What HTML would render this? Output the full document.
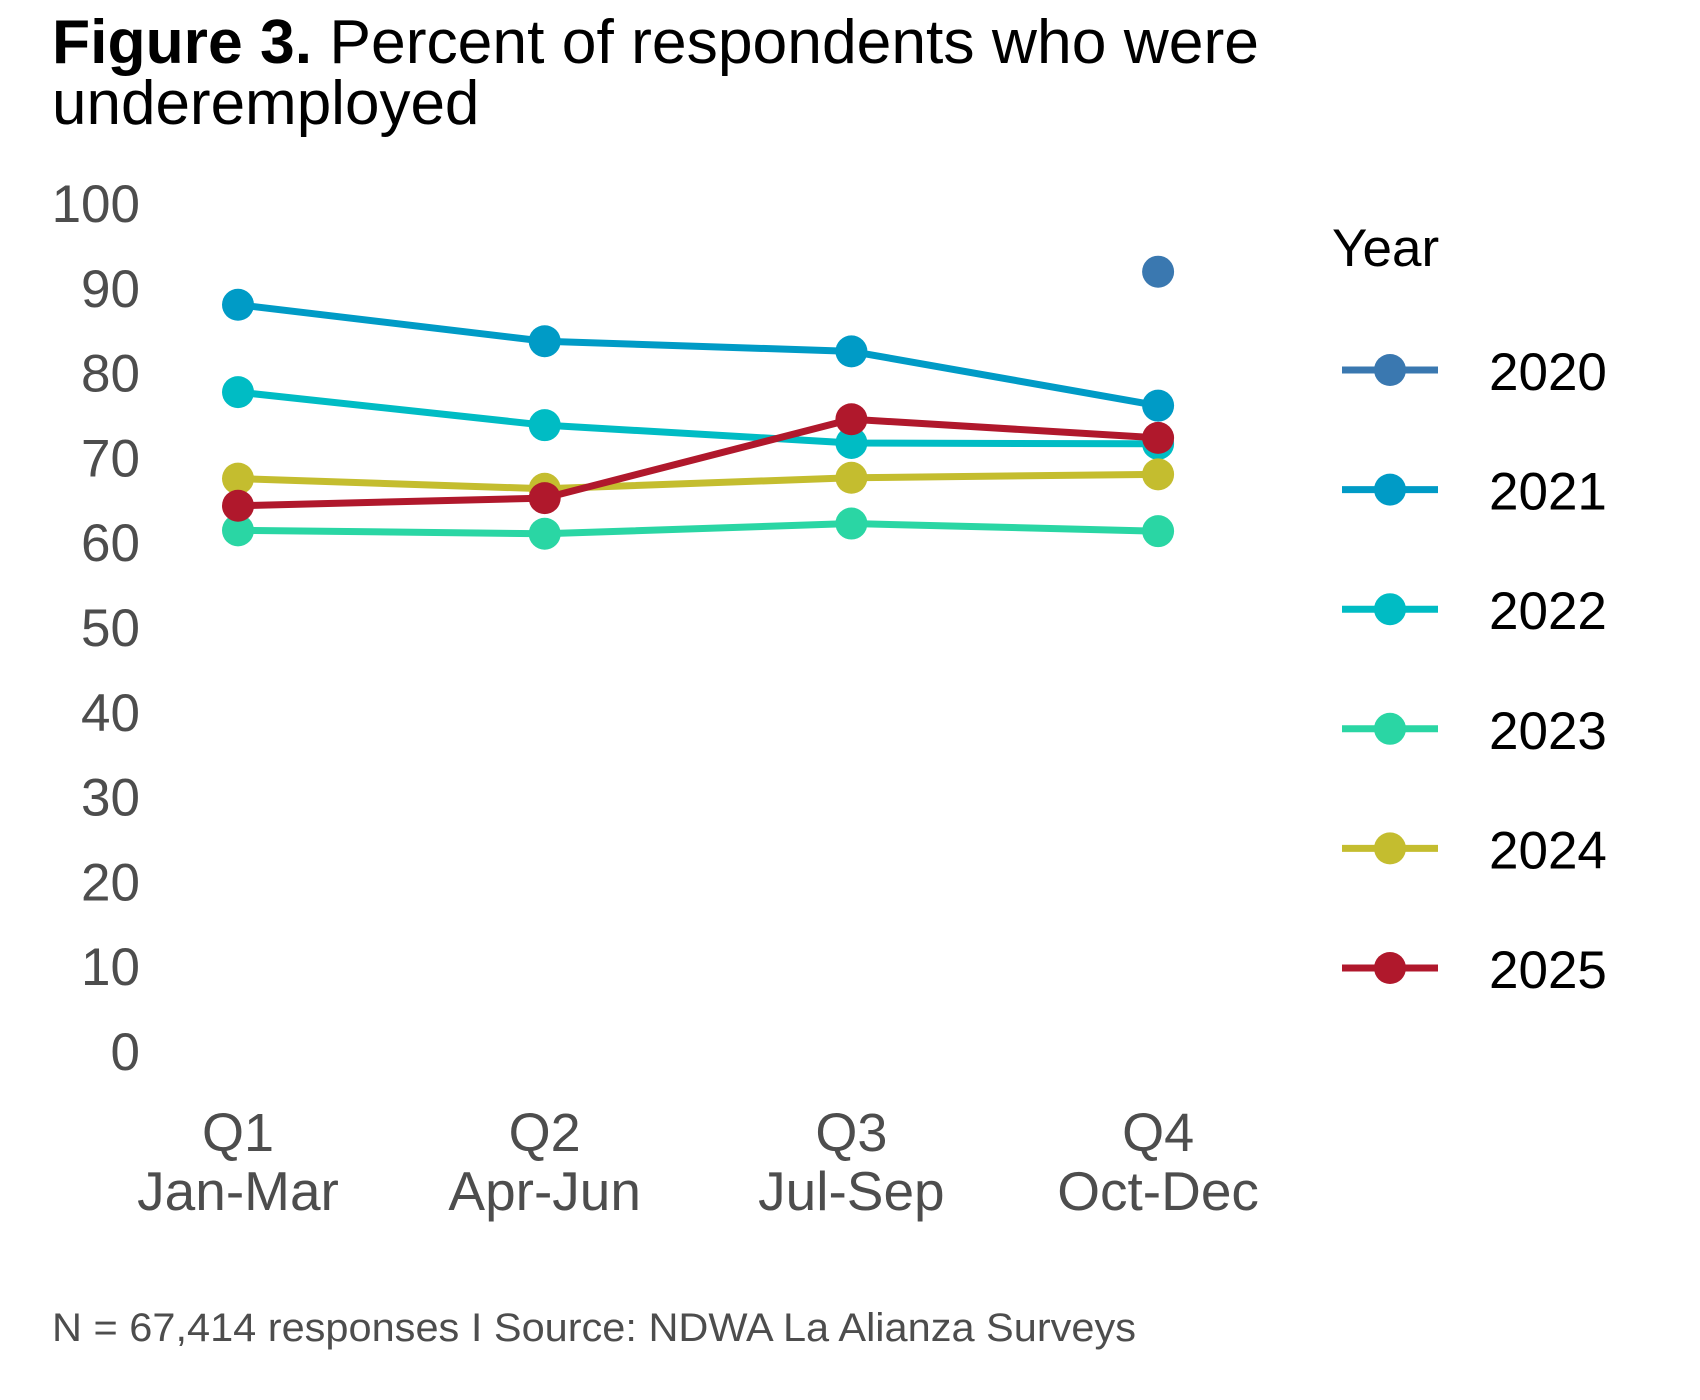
<!DOCTYPE html>
<html><head><meta charset="utf-8"><style>
html,body{margin:0;padding:0;background:#fff}
svg{display:block;font-family:"Liberation Sans",Arial,sans-serif}
</style></head><body>
<svg id="chart" width="1700" height="1400" viewBox="0 0 1700 1400">
<text x="52" y="63" font-size="62" fill="#000" textLength="1207" lengthAdjust="spacingAndGlyphs"><tspan font-weight="bold">Figure 3.</tspan> Percent of respondents who were</text>
<text x="52" y="124" font-size="62" fill="#000">underemployed</text>
<g id="yaxis"></g>
<g id="xaxis"></g>
<g id="series"></g>
<text x="1332" y="266" font-size="53" fill="#000">Year</text>
<g id="legend"></g>
<text x="52" y="1341" font-size="40" fill="#4d4d4d" textLength="1084" lengthAdjust="spacingAndGlyphs">N = 67,414 responses I Source: NDWA La Alianza Surveys</text>
</svg>
<script>
const quarters = ["Q1","Q2","Q3","Q4"];
const quarterMonths = ["Jan-Mar","Apr-Jun","Jul-Sep","Oct-Dec"];
const yTicks = [0,10,20,30,40,50,60,70,80,90,100];
const years = ["2020","2021","2022","2023","2024","2025"];
const colors = ["#3a78b0","#009bc6","#00bcc4","#2ad6a4","#c4bd2f","#b0182c"];
const v2020 = [null,null,null,91.9];
const v2021 = [88.0,83.7,82.5,76.1];
const v2022 = [77.7,73.8,71.7,71.6];
const v2023 = [61.4,61.0,62.2,61.3];
const v2024 = [67.5,66.3,67.6,68.0];
const v2025 = [64.3,65.2,74.5,72.3];
const seriesValues = [v2020,v2021,v2022,v2023,v2024,v2025];

const NS="http://www.w3.org/2000/svg";
function xPos(i){return 238 + i*306.7;}
function yPos(v){return 1051 - v*8.48;}
function mk(tag,attrs,parent){const e=document.createElementNS(NS,tag);for(const k in attrs)e.setAttribute(k,attrs[k]);parent.appendChild(e);return e;}

const ya=document.getElementById('yaxis');
yTicks.forEach(t=>{
  const e=mk('text',{x:140,y:yPos(t)+19,'font-size':53,fill:'#4d4d4d','text-anchor':'end'},ya);
  
  
  e.textContent=t;
});
const xa=document.getElementById('xaxis');
quarters.forEach((q,i)=>{
  const a=mk('text',{x:xPos(i),y:1151,'font-size':54,fill:'#4d4d4d','text-anchor':'middle'},xa);
  
  
  a.textContent=q;
  const b=mk('text',{x:xPos(i),y:1210,'font-size':55,fill:'#4d4d4d','text-anchor':'middle'},xa);
  
  
  b.textContent=quarterMonths[i];
});
const sg=document.getElementById('series');
seriesValues.forEach((vals,s)=>{
  const g=mk('g',{},sg);
  
  
  let d='';let started=false;
  vals.forEach((v,i)=>{ if(v==null){started=false;return;} d+=(started?'L':'M')+xPos(i)+','+yPos(v)+' '; started=true;});
  const p=mk('path',{d:d,fill:'none',stroke:colors[s],'stroke-width':7,'stroke-linejoin':'round'},g);
  
  
  vals.forEach((v,i)=>{ if(v==null)return;
    const c=mk('circle',{cx:xPos(i),cy:yPos(v),r:16,fill:colors[s]},g);
    
    
  });
});
const lg=document.getElementById('legend');
years.forEach((y,i)=>{
  const cy=370+i*119.6;
  const g=mk('g',{},lg);
  
  
  mk('line',{x1:1342,x2:1438,y1:cy,y2:cy,stroke:colors[i],'stroke-width':7},g);
  mk('circle',{cx:1390,cy:cy,r:16,fill:colors[i]},g);
  const t=mk('text',{x:1489,y:cy+20,'font-size':53,fill:'#000'},g);
  
  
  t.textContent=y;
});
</script>
</body></html>
